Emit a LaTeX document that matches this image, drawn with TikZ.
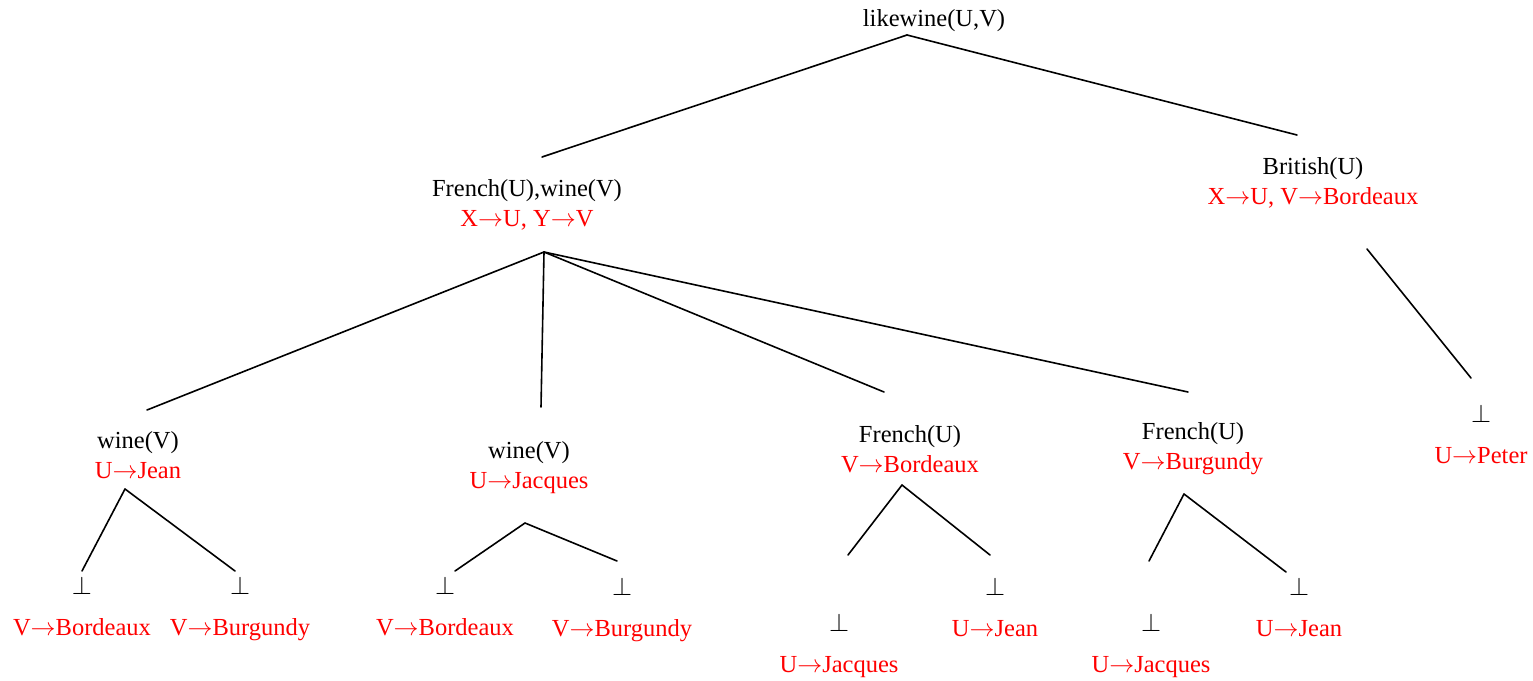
\documentclass[tikz,border=0pt]{standalone}
\usepackage{graphicx}
\usepackage{fontspec}
\setmainfont{Liberation Serif}
\definecolor{subst}{RGB}{255,0,0}
\newcommand{\bottom}{\resizebox{20pt}{!}{$\perp$}}
\newcommand{\sto}{\resizebox{25pt}{!}{$\rightarrow$}}
\begin{document}
\begin{tikzpicture}[x=1pt,y=-1pt,
  goal/.style={align=center, anchor=base, inner sep=0pt,
    font=\fontsize{24.5}{30}\selectfont},
  leaf/.style={align=center, anchor=base, inner sep=0pt,
    font=\fontsize{24.5}{40.5}\selectfont},
  edge/.style={line width=1.6pt, line cap=round}]
\useasboundingbox (0,0) rectangle (1533,680);

% goals with the substitutions that reach them (anchored on the last line)
\node[goal] (root) at (934,27) {likewine(U,V)};
\node[goal] (fw) at (527,226) {French(U),wine(V)\\\textcolor{subst}{X\sto U, Y\sto V}};
\node[goal] (br) at (1313,204) {British(U)\\\textcolor{subst}{X\sto U, V\sto Bordeaux}};
\node[goal] (w1) at (138,478) {wine(V)\\\textcolor{subst}{U\sto Jean}};
\node[goal] (w2) at (529,488) {wine(V)\\\textcolor{subst}{U\sto Jacques}};
\node[goal] (f1) at (910,472) {French(U)\\\textcolor{subst}{V\sto Bordeaux}};
\node[goal] (f2) at (1193,469) {French(U)\\\textcolor{subst}{V\sto Burgundy}};

% empty goals
\node[leaf] (l1) at (82,635) {\bottom\\\textcolor{subst}{V\sto Bordeaux}};
\node[leaf] (l2) at (240,635) {\bottom\\\textcolor{subst}{V\sto Burgundy}};
\node[leaf] (l3) at (445,635) {\bottom\\\textcolor{subst}{V\sto Bordeaux}};
\node[leaf] (l4) at (622,636) {\bottom\\\textcolor{subst}{V\sto Burgundy}};
\node[leaf] (l5) at (839,672) {\bottom\\\textcolor{subst}{U\sto Jacques}};
\node[leaf] (l6) at (995,636) {\bottom\\\textcolor{subst}{U\sto Jean}};
\node[leaf] (l7) at (1151,672) {\bottom\\\textcolor{subst}{U\sto Jacques}};
\node[leaf] (l8) at (1299,636) {\bottom\\\textcolor{subst}{U\sto Jean}};
\node[leaf] (l9) at (1481,463) {\bottom\\\textcolor{subst}{U\sto Peter}};

% resolution steps
\draw[edge] ([shift={(-27,8)}]root.base) -- ([shift={(15,-69)}]fw.base);
\draw[edge] ([shift={(-27,8)}]root.base) -- ([shift={(-16,-69)}]br.base);
\draw[edge] ([shift={(17,26)}]fw.base) -- ([shift={(9,-68)}]w1.base);
\draw[edge] ([shift={(17,26)}]fw.base) -- ([shift={(12,-81)}]w2.base);
\draw[edge] ([shift={(17,26)}]fw.base) -- ([shift={(-26,-80)}]f1.base);
\draw[edge] ([shift={(17,26)}]fw.base) -- ([shift={(-5,-77)}]f2.base);
\draw[edge] ([shift={(54,45)}]br.base) -- ([shift={(-10,-85)}]l9.base);
\draw[edge] ([shift={(-13,11)}]w1.base) -- ([shift={(0,-64)}]l1.base);
\draw[edge] ([shift={(-13,11)}]w1.base) -- ([shift={(-5,-64)}]l2.base);
\draw[edge] ([shift={(-4,35)}]w2.base) -- ([shift={(10,-64)}]l3.base);
\draw[edge] ([shift={(-4,35)}]w2.base) -- ([shift={(-5,-75)}]l4.base);
\draw[edge] ([shift={(-8,13)}]f1.base) -- ([shift={(9,-117)}]l5.base);
\draw[edge] ([shift={(-8,13)}]f1.base) -- ([shift={(-5,-81)}]l6.base);
\draw[edge] ([shift={(-9,25)}]f2.base) -- ([shift={(-2,-111)}]l7.base);
\draw[edge] ([shift={(-9,25)}]f2.base) -- ([shift={(-13,-64)}]l8.base);
\end{tikzpicture}
\end{document}
